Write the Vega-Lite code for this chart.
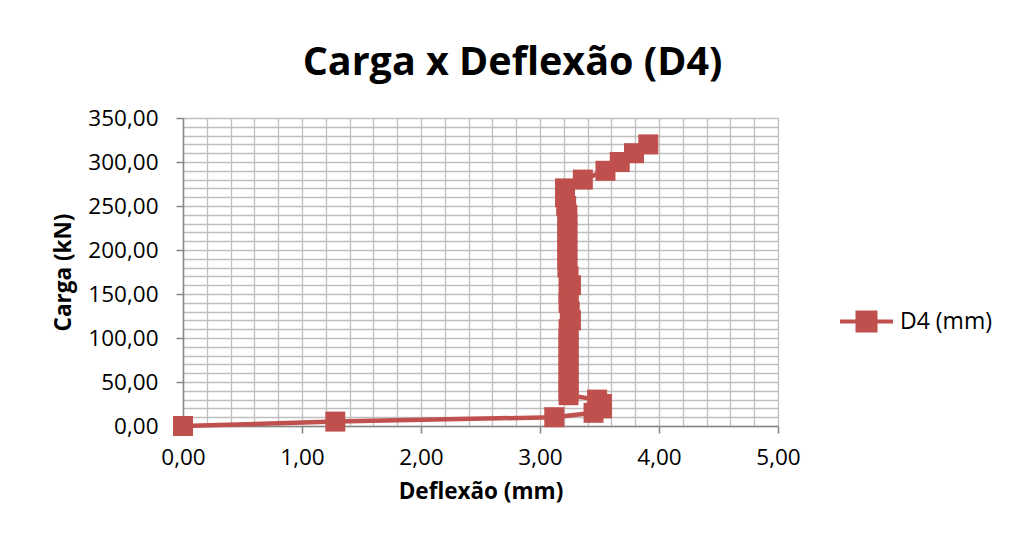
{
  "$schema": "https://vega.github.io/schema/vega-lite/v6.json",
  "width": 595,
  "height": 308,
  "autosize": {"type": "none"},
  "padding": {"left": 183, "top": 118, "right": 235, "bottom": 122},
  "background": "white",
  "title": {
    "text": "Carga x Deflexão (D4)",
    "font": "Open Sans",
    "fontSize": 39.5,
    "fontWeight": "bold",
    "color": "#000000",
    "anchor": "middle",
    "frame": "group",
    "dx": 32,
    "offset": 24
  },
  "data": {
    "values": [
      {"i": 0, "d": 0.0, "c": 0, "s": "D4 (mm)"},
      {"i": 1, "d": 1.28, "c": 5, "s": "D4 (mm)"},
      {"i": 2, "d": 3.12, "c": 10, "s": "D4 (mm)"},
      {"i": 3, "d": 3.45, "c": 15, "s": "D4 (mm)"},
      {"i": 4, "d": 3.52, "c": 20, "s": "D4 (mm)"},
      {"i": 5, "d": 3.52, "c": 25, "s": "D4 (mm)"},
      {"i": 6, "d": 3.48, "c": 30, "s": "D4 (mm)"},
      {"i": 7, "d": 3.24, "c": 35, "s": "D4 (mm)"},
      {"i": 8, "d": 3.24, "c": 40, "s": "D4 (mm)"},
      {"i": 9, "d": 3.24, "c": 50, "s": "D4 (mm)"},
      {"i": 10, "d": 3.24, "c": 60, "s": "D4 (mm)"},
      {"i": 11, "d": 3.24, "c": 70, "s": "D4 (mm)"},
      {"i": 12, "d": 3.24, "c": 80, "s": "D4 (mm)"},
      {"i": 13, "d": 3.24, "c": 90, "s": "D4 (mm)"},
      {"i": 14, "d": 3.24, "c": 100, "s": "D4 (mm)"},
      {"i": 15, "d": 3.24, "c": 110, "s": "D4 (mm)"},
      {"i": 16, "d": 3.26, "c": 120, "s": "D4 (mm)"},
      {"i": 17, "d": 3.25, "c": 130, "s": "D4 (mm)"},
      {"i": 18, "d": 3.24, "c": 140, "s": "D4 (mm)"},
      {"i": 19, "d": 3.24, "c": 150, "s": "D4 (mm)"},
      {"i": 20, "d": 3.26, "c": 160, "s": "D4 (mm)"},
      {"i": 21, "d": 3.24, "c": 170, "s": "D4 (mm)"},
      {"i": 22, "d": 3.23, "c": 180, "s": "D4 (mm)"},
      {"i": 23, "d": 3.23, "c": 190, "s": "D4 (mm)"},
      {"i": 24, "d": 3.23, "c": 200, "s": "D4 (mm)"},
      {"i": 25, "d": 3.23, "c": 210, "s": "D4 (mm)"},
      {"i": 26, "d": 3.23, "c": 220, "s": "D4 (mm)"},
      {"i": 27, "d": 3.23, "c": 230, "s": "D4 (mm)"},
      {"i": 28, "d": 3.23, "c": 240, "s": "D4 (mm)"},
      {"i": 29, "d": 3.22, "c": 250, "s": "D4 (mm)"},
      {"i": 30, "d": 3.21, "c": 260, "s": "D4 (mm)"},
      {"i": 31, "d": 3.21, "c": 270, "s": "D4 (mm)"},
      {"i": 32, "d": 3.36, "c": 280, "s": "D4 (mm)"},
      {"i": 33, "d": 3.55, "c": 290, "s": "D4 (mm)"},
      {"i": 34, "d": 3.67, "c": 300, "s": "D4 (mm)"},
      {"i": 35, "d": 3.79, "c": 310, "s": "D4 (mm)"},
      {"i": 36, "d": 3.91, "c": 320, "s": "D4 (mm)"}
    ]
  },
  "encoding": {
    "x": {
      "field": "d",
      "type": "quantitative",
      "scale": {"domain": [0, 5], "nice": false, "zero": false},
      "axis": {
        "title": "Deflexão (mm)",
        "values": [0, 0.2, 0.4, 0.6, 0.8, 1, 1.2, 1.4, 1.6, 1.8, 2, 2.2, 2.4, 2.6, 2.8, 3, 3.2, 3.4, 3.6, 3.8, 4, 4.2, 4.4, 4.6, 4.8, 5],
        "labelExpr": "abs(datum.value - round(datum.value)) < 0.001 ? replace(format(datum.value, '.2f'), '.', ',') : ''",
        "tickOpacity": {"condition": {"test": "abs(datum.value - round(datum.value)) < 0.001 && datum.value > 0.5", "value": 1}, "value": 0},
        "labelFlush": false,
        "labelOverlap": false
      }
    },
    "y": {
      "field": "c",
      "type": "quantitative",
      "scale": {"domain": [0, 350], "nice": false},
      "axis": {
        "title": "Carga (kN)",
        "values": [0, 10, 20, 30, 40, 50, 60, 70, 80, 90, 100, 110, 120, 130, 140, 150, 160, 170, 180, 190, 200, 210, 220, 230, 240, 250, 260, 270, 280, 290, 300, 310, 320, 330, 340, 350],
        "labelExpr": "datum.value % 50 === 0 ? replace(format(datum.value, '.2f'), '.', ',') : ''",
        "tickOpacity": {"condition": {"test": "datum.value % 50 === 0", "value": 1}, "value": 0},
        "labelFlush": false,
        "labelOverlap": false
      }
    },
    "color": {
      "field": "s",
      "type": "nominal",
      "scale": {"range": ["#C0504D"]},
      "legend": {
        "title": null,
        "orient": "none",
        "legendX": 655,
        "legendY": 175,
        "symbolType": "M-1,0L-0.34,0M0.34,0L1,0M-0.34,-0.34L0.34,-0.34L0.34,0.34L-0.34,0.34Z",
        "symbolSize": 2809,
        "symbolFillColor": "#C0504D",
        "symbolStrokeColor": "#C0504D",
        "symbolStrokeWidth": 4,
        "symbolOpacity": 1,
        "labelFont": "Open Sans",
        "labelFontSize": 23,
        "labelColor": "#000000",
        "labelOffset": 5
      }
    }
  },
  "layer": [
    {
      "mark": {"type": "line", "strokeWidth": 4.5, "strokeCap": "round", "strokeJoin": "round"},
      "encoding": {"order": {"field": "i", "type": "quantitative"}}
    },
    {
      "mark": {"type": "point", "shape": "square", "filled": true, "size": 400, "opacity": 1}
    }
  ],
  "config": {
    "view": {"stroke": null},
    "axis": {
      "domainColor": "#868686",
      "domainWidth": 1.5,
      "tickColor": "#868686",
      "tickWidth": 1.5,
      "tickSize": 7,
      "gridColor": "#BFBFBF",
      "gridWidth": 1.3,
      "gridOpacity": 1,
      "labelFont": "Open Sans",
      "labelFontSize": 22.5,
      "labelColor": "#000000",
      "titleFont": "Open Sans",
      "titleFontSize": 22.5,
      "titleFontWeight": "bold",
      "titleColor": "#000000"
    },
    "axisX": {"labelPadding": 13, "titlePadding": 12},
    "axisY": {"labelPadding": 18, "titlePadding": 12}
  }
}
